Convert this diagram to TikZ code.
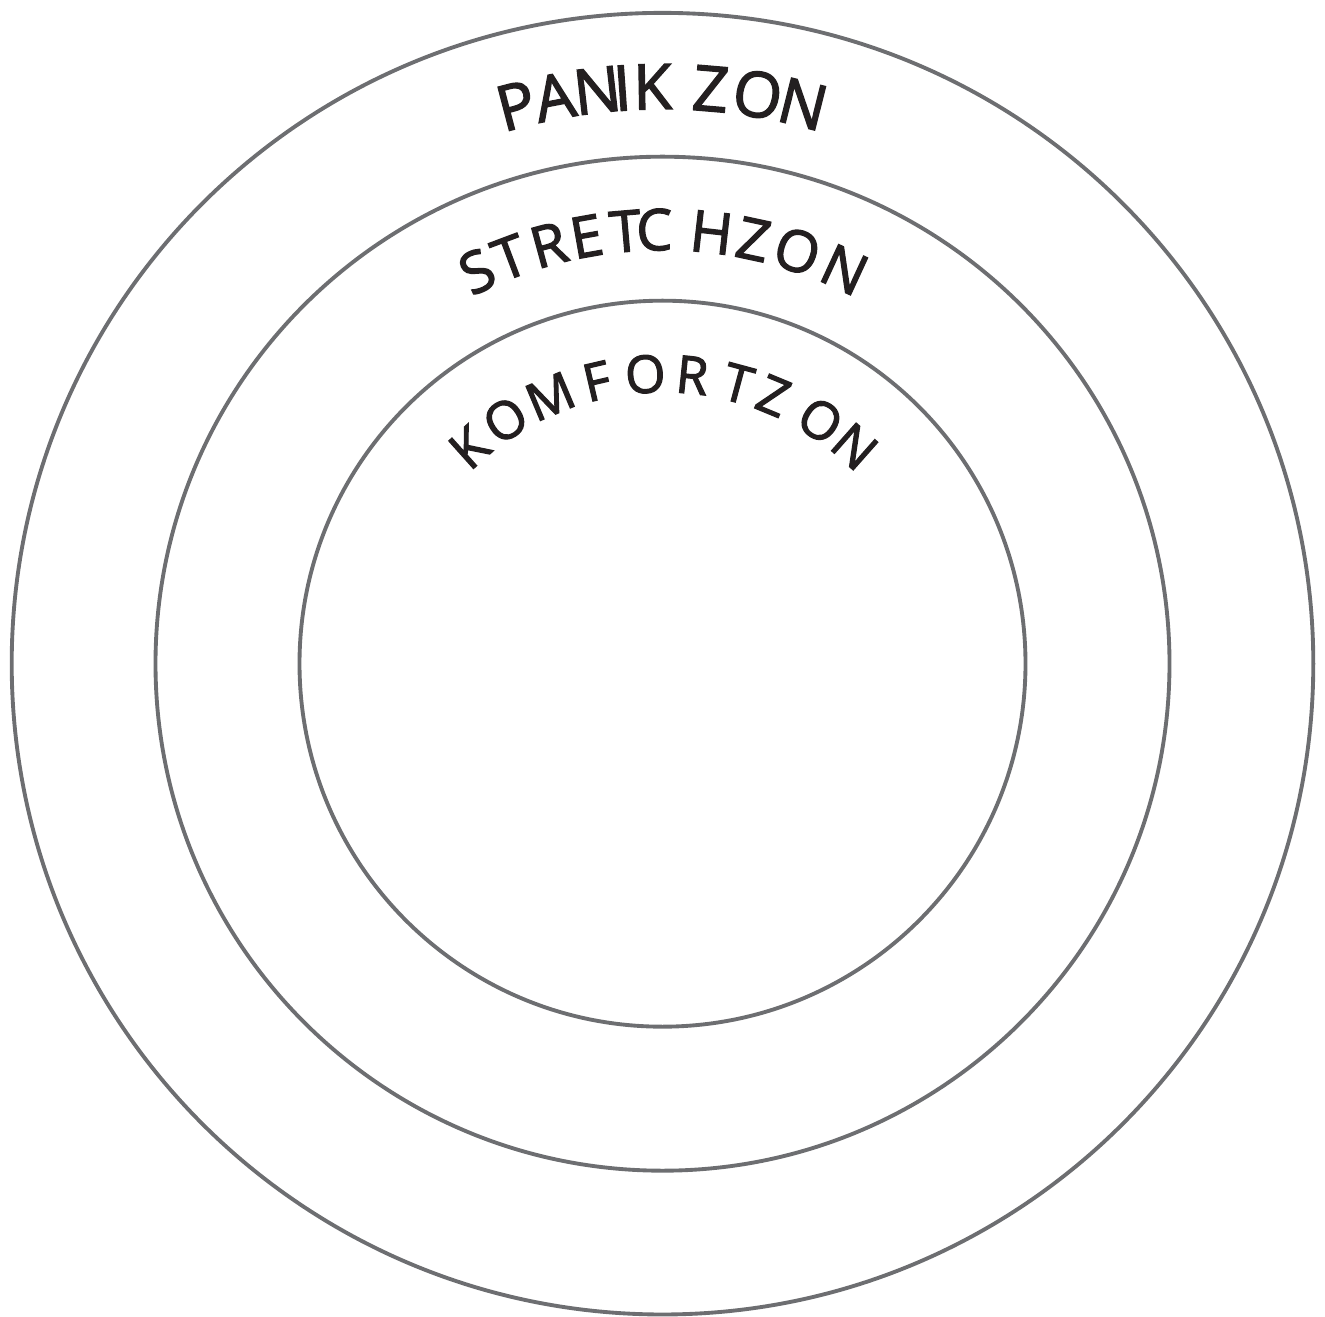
\documentclass[tikz,border=0pt]{standalone}
\usepackage{fontspec}
\setmainfont{Open Sans}
\newfontfamily\zonfont{Open Sans}[FakeBold=2.2]
\definecolor{ringc}{HTML}{6D6E71}
\definecolor{ink}{HTML}{231F20}
\begin{document}
\begin{tikzpicture}
\tikzset{
  ring/.style={draw=ringc, line width=1.1pt, circle, inner sep=0pt, outer sep=0pt},
  lt/.style={inner sep=0pt, outer sep=0pt, text=ink},
  panik/.style={lt, font=\zonfont\fontsize{17.9}{20}\selectfont},
  stretchf/.style={lt, font=\zonfont\fontsize{16.3}{19}\selectfont},
  komf/.style={lt, font=\zonfont\fontsize{14.8}{17}\selectfont}
}
\useasboundingbox (0,0) rectangle (13.25,13.17);
\coordinate (C) at (6.625,6.533);
\node[ring, minimum size=13.016cm] (outer) at (C) {};
\node[ring, minimum size=10.14cm] (middle) at (C) {};
\node[ring, minimum size=7.26cm] (inner) at (C) {};
\foreach \l/\a [count=\i] in {P/104.7, A/100.8, N/96.5, I/94.0, K/91.0, Z/85.2, O/80.5, N/75.9}
  \node[panik, rotate=\a-90] (p\i) at ([shift={(\a:5.77)}]C) {\l};
\foreach \l/\a [count=\i] in {S/115.3, T/110.6, R/105.2, E/100.1, T/94.9, C/91.1, H/83.5, Z/77.9, O/71.9, N/65.2}
  \node[stretchf, rotate=\a-90] (s\i) at ([shift={(\a:4.34)}]C) {\l};
\foreach \l/\a [count=\i] in {K/131.8, O/122.8, M/112.8, F/103.1, O/93.4, R/84.1, T/74.9, Z/67.5, O/57.0, N/48.5}
  \node[komf, rotate=\a-90] (k\i) at ([shift={(\a:2.90)}]C) {\l};
\end{tikzpicture}
\end{document}
